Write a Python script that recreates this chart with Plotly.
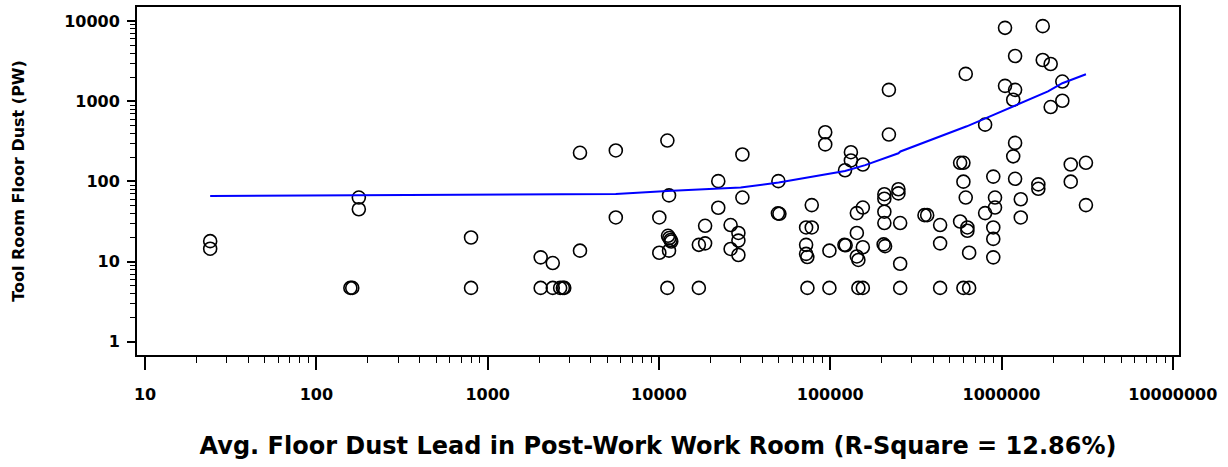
import plotly.graph_objects as go

# Avg. floor dust lead in the post-work work room (x) vs tool room floor dust (y)
work_room_lead = [
    24, 24, 177, 177, 158, 162, 800, 800,
    2040, 2400, 2040, 2400, 2650, 2750, 2800,
    3460, 3460, 5600, 5600,
    11200, 11450, 10050, 11300, 11500, 11700, 11800, 10050, 11450, 11200,
    17100, 17100, 18600, 18600, 22200, 22200, 26200, 26200,
    29100, 29100, 29100, 30700, 30700,
    49800, 49500, 50500,
    72300, 78000, 78000, 72300, 72300, 73500, 73600,
    98900, 98900, 93500, 93500,
    121000, 123000, 132000, 132000, 122000,
    155000, 143000, 155000, 143000, 155000, 143000, 146000, 146000, 155000,
    207000, 207000, 207000, 207000, 205000, 209000,
    220000, 220000, 250000, 250000, 256000, 256000, 256000,
    355000, 368000, 438000, 438000, 438000,
    618000, 573000, 599000, 599000, 618000, 573000, 632000, 632000, 647000, 599000, 647000,
    802000, 802000,
    895000, 916000, 916000, 895000, 895000, 895000,
    1048000, 1200000, 1048000, 1200000, 1170000, 1200000, 1170000, 1200000, 1295000, 1295000,
    1640000, 1640000,
    1740000, 1740000, 1936000, 2264000, 2264000, 1936000,
    2535000, 3110000, 2535000, 3110000,
]
tool_room_dust = [
    18, 14.5, 63, 45, 4.7, 4.7, 20, 4.7,
    11.3, 9.6, 4.7, 4.7, 4.7, 4.7, 4.7,
    228, 13.7, 244, 35.6,
    324, 67, 35.6, 21, 19.7, 18.6, 17.8, 12.9, 13.7, 4.7,
    4.7, 16.2, 16.9, 28, 101, 47, 28.6, 14.4,
    22.8, 18.3, 12.1, 217, 63,
    101, 40, 39.5,
    26.7, 26.7, 50.7, 16.2, 12.5, 11.4, 4.7,
    13.7, 4.7, 411, 290,
    16.2, 16.0, 232, 183, 138,
    163, 40.3, 47.3, 22.8, 15.1, 11.6, 10.5, 4.7, 4.7,
    69.4, 61, 42, 30.3, 16.4, 15.6,
    1390, 385, 80, 71, 30.3, 9.4, 4.7,
    38, 38, 28.6, 16.9, 4.7,
    2200, 171, 171, 99.5, 63, 31.7, 26.7, 24.3, 12.9, 4.7, 4.7,
    512, 40.3,
    115, 63, 47.3, 26.7, 19.2, 11.3,
    8260, 3680, 1560, 1390, 1047, 303, 206, 108, 60, 35.6,
    92, 81,
    8670, 3280, 2925, 1766, 1017, 848,
    163, 171, 99.5, 50.7,
]

# Smoothed fit curve
fit_x = [24, 177, 800, 5600, 11200, 22200, 30000, 50000, 95000, 122000, 160000,
         250000, 257000, 372000, 627000, 857000, 1167000, 1466000, 1867000, 2264000, 3110000]
fit_y = [66, 67, 69, 70, 76, 81, 84, 97, 125, 135, 160,
         225, 237, 318, 488, 650, 865, 1047, 1328, 1683, 2175]

x_ticks = [10, 100, 1000, 10000, 100000, 1000000, 10000000]
x_tick_text = ["10", "100", "1000", "10000", "100000", "1000000", "10000000"]
y_ticks = [1, 10, 100, 1000, 10000]
y_tick_text = ["1", "10", "100", "1000", "10000"]

x_minor = [m * 10 ** d for d in range(1, 7) for m in range(2, 10)]
y_minor = [m * 10 ** d for d in range(0, 4) for m in range(2, 10)]

FONT = "DejaVu Sans, Verdana, sans-serif"

fig = go.Figure()
fig.add_trace(go.Scatter(
    x=work_room_lead, y=tool_room_dust, mode="markers",
    marker=dict(symbol="circle-open", size=13, color="black", line=dict(width=1.6, color="black")),
    showlegend=False,
))
fig.add_trace(go.Scatter(
    x=fit_x, y=fit_y, mode="lines",
    line=dict(color="#0000ff", width=2),
    showlegend=False,
))

fig.update_layout(
    width=1228, height=467,
    margin=dict(l=137, r=49, t=5, b=112),
    paper_bgcolor="white", plot_bgcolor="white",
    font=dict(family=FONT, color="black"),
)
fig.update_xaxes(
    type="log", range=[0.953, 7.036],
    tickvals=x_ticks, ticktext=x_tick_text,
    ticks="outside", ticklen=13, tickwidth=1.5, tickcolor="black",
    minor=dict(tickvals=x_minor, ticks="outside", ticklen=6, tickwidth=1.2, tickcolor="black", showgrid=False),
    showgrid=False, zeroline=False,
    showline=True, linecolor="black", linewidth=2, mirror=True,
    tickfont=dict(size=16, family=FONT, weight="bold"),
    ticklabelstandoff=11,
    title=dict(text="Avg. Floor Dust Lead in Post-Work Work Room (R-Square = 12.86%)",
               font=dict(size=24, family=FONT, weight="bold"), standoff=34),
)
fig.update_yaxes(
    type="log", range=[-0.165, 4.177],
    tickvals=y_ticks, ticktext=y_tick_text,
    ticks="outside", ticklen=8, tickwidth=1.5, tickcolor="black",
    minor=dict(tickvals=y_minor, ticks="outside", ticklen=5, tickwidth=1.2, tickcolor="black", showgrid=False),
    showgrid=False, zeroline=False,
    showline=True, linecolor="black", linewidth=2, mirror=True,
    tickfont=dict(size=16, family=FONT, weight="bold"),
    ticklabelstandoff=4,
    title=dict(text="Tool Room Floor Dust (PW)",
               font=dict(size=16, family=FONT, weight="bold"), standoff=36),
)

fig.write_html("out.html")
